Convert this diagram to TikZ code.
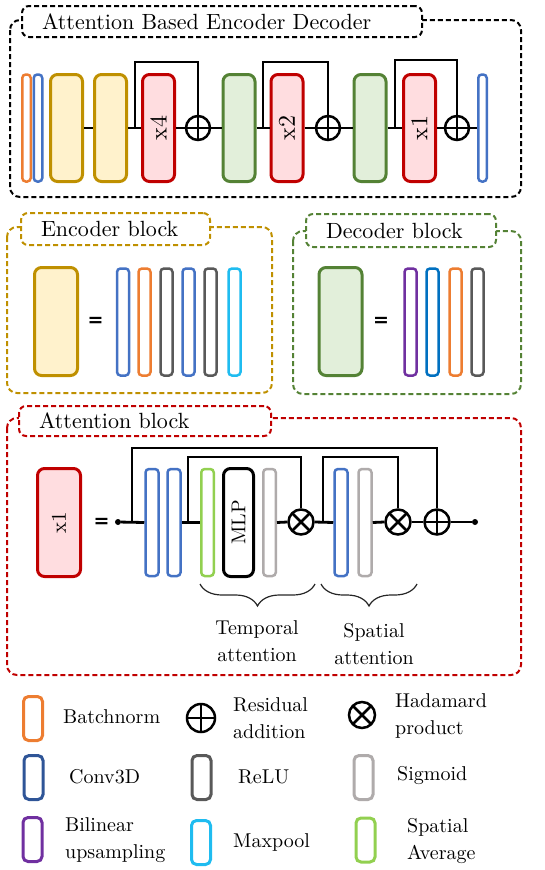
\documentclass[tikz,border=0pt]{standalone}
\usepackage{fontspec}
\setmainfont{lmroman10-regular}[Extension=.otf, BoldFont=lmroman10-bold, ItalicFont=lmroman10-italic]
\newfontfamily\eqfont{DejaVu Sans}
\usetikzlibrary{calc,decorations.pathreplacing}
\definecolor{cOr}{HTML}{ED7D31}
\definecolor{cBl}{HTML}{4472C4}
\definecolor{cBlD}{HTML}{0070C0}
\definecolor{cBlN}{HTML}{2F5597}
\definecolor{cYb}{HTML}{BF9000}
\definecolor{cYf}{HTML}{FFF2CC}
\definecolor{cRb}{HTML}{C00000}
\definecolor{cRf}{HTML}{FFDDE0}
\definecolor{cGb}{HTML}{548235}
\definecolor{cGf}{HTML}{E2EFDA}
\definecolor{cGy}{HTML}{595959}
\definecolor{cLg}{HTML}{AFABAB}
\definecolor{cCy}{HTML}{1FBCF0}
\definecolor{cPu}{HTML}{7030A0}
\definecolor{cLgr}{HTML}{92D050}
\tikzset{
  big/.style={draw, line width=3pt, rounded corners=7pt, minimum width=32pt, minimum height=107pt, inner sep=0pt},
  encb/.style={big, draw=cYb, fill=cYf},
  decb/.style={big, draw=cGb, fill=cGf},
  attb/.style={big, draw=cRb, fill=cRf, font=\fontsize{24}{24}\selectfont},
  slim/.style={draw, line width=2.5pt, rounded corners=3.5pt, minimum width=8.5pt, minimum height=107pt, inner sep=0pt},
  leg/.style={draw, line width=3pt, rounded corners=5pt, minimum width=19pt, minimum height=44pt, inner sep=0pt},
  opl/.style={circle, draw, line width=2.5pt, minimum size=24pt, inner sep=0pt},
  oplus/.style={opl, path picture={\draw[line width=2.5pt] (path picture bounding box.north) -- (path picture bounding box.south) (path picture bounding box.east) -- (path picture bounding box.west);}},
  otimes/.style={opl, path picture={\draw[line width=2.5pt] (path picture bounding box.north east) -- (path picture bounding box.south west) (path picture bounding box.north west) -- (path picture bounding box.south east);}},
  link/.style={line width=2.8pt},
  skipl/.style={line width=2pt},
  frame/.style={dash pattern=on 5pt off 3pt, line width=2pt, rounded corners=10pt},
  titlebox/.style={frame, draw, fill=white, rounded corners=7pt, inner xsep=20pt, inner ysep=0pt, align=left, anchor=north west, font=\fontsize{22}{26}\selectfont},
  eqs/.style={font=\eqfont\bfseries\fontsize{19}{19}\selectfont, inner sep=0pt},
  dot/.style={circle, fill, inner sep=0pt, minimum size=6pt},
  lt/.style={anchor=west, align=left, inner sep=0pt},
  brc/.style={decorate, decoration={brace, amplitude=22pt, mirror}, line width=1.2pt, draw=black!85},
}
\begin{document}
\begin{tikzpicture}[x=1pt, y=-1pt, font=\fontsize{20}{27}\selectfont]
\useasboundingbox (0,0) rectangle (544,870);

% ---------- top frame ----------
\draw[frame] (10,20) rectangle (521,197);
\node[titlebox, minimum width=400pt, minimum height=31pt, text width=360pt] (t1) at (21,5) {Attention Based Encoder Decoder};

\node[slim, draw=cOr] (bn0) at (26.5,128) {};
\node[slim, draw=cBl] (cv0) at (38,128) {};
\node[encb] (e1) at (66.5,128) {};
\node[encb] (e2) at (110.5,128) {};
\node[attb] (a4) at (158.5,128) {\rotatebox{90}{x4}};
\node[oplus] (p1) at (198,128) {};
\node[decb] (d1) at (239,128) {};
\node[attb] (a2) at (287,128) {\rotatebox{90}{x2}};
\node[oplus] (p2) at (328,128) {};
\node[decb] (d2) at (370,128) {};
\node[attb] (a1) at (419.5,128) {\rotatebox{90}{x1}};
\node[oplus] (p3) at (457,128) {};
\node[slim, draw=cBl] (cv9) at (482.5,128) {};

\draw[link] (e1.east) -- (e2.west);
\draw[link] (e2.east) -- (a4.west);
\draw[link] (a4.east) -- (p1.west);
\draw[link] (p1.east) -- (d1.west);
\draw[link] (d1.east) -- (a2.west);
\draw[link] (a2.east) -- (p2.west);
\draw[link] (p2.east) -- (d2.west);
\draw[link] (d2.east) -- (a1.west);
\draw[link] (a1.east) -- (p3.west);
\draw[link] (p3.east) -- (cv9.west);
\coordinate (k1) at ($(e2.east)!0.5!(a4.west)$);
\coordinate (k2) at ($(d1.east)!0.5!(a2.west)$);
\coordinate (k3) at ($(d2.east)!0.5!(a1.west)$);
\draw[skipl] (k1) -- (k1 |- 0,62) -| (p1.north);
\draw[skipl] (k2) -- (k2 |- 0,62) -| (p2.north);
\draw[skipl] (k3) -- (k3 |- 0,60) -| (p3.north);

% ---------- encoder block ----------
\draw[frame, draw=cYb] (7,227) rectangle (272,393);
\node[titlebox, draw=cYb, minimum width=189pt, minimum height=32pt, text width=149pt] (t2) at (20,212) {Encoder block};
\node[encb, minimum width=43pt, minimum height=108pt] (E) at (56,321.5) {};
\node[eqs] (eqE) at (95.5,322) {=};
\node[slim, minimum width=12pt, draw=cBl] (E1) at (123,322) {};
\node[slim, minimum width=12pt, draw=cOr] (E2) at (144.5,322) {};
\node[slim, minimum width=12pt, draw=cGy] (E3) at (166.5,322) {};
\node[slim, minimum width=12pt, draw=cBl] (E4) at (188.5,322) {};
\node[slim, minimum width=12pt, draw=cGy] (E5) at (210.5,322) {};
\node[slim, minimum width=12pt, draw=cCy] (E6) at (234.5,322) {};

% ---------- decoder block ----------
\draw[frame, draw=cGb] (293,231) rectangle (521,394);
\node[titlebox, draw=cGb, minimum width=190pt, minimum height=33pt, text width=150pt] (t3) at (305,213) {Decoder block};
\node[decb, minimum width=43pt, minimum height=108pt] (D) at (340.5,321.5) {};
\node[eqs] (eqD) at (381,322) {=};
\node[slim, minimum width=12pt, draw=cPu] (D1) at (410.5,322) {};
\node[slim, minimum width=12pt, draw=cBlD] (D2) at (432.5,322) {};
\node[slim, minimum width=12pt, draw=cOr] (D3) at (455.5,322) {};
\node[slim, minimum width=12pt, draw=cGy] (D4) at (477.5,322) {};

% ---------- attention block ----------
\draw[frame, draw=cRb] (7,418) rectangle (521,675);
\node[titlebox, draw=cRb, minimum width=252pt, minimum height=30pt, text width=212pt] (t4) at (18,405) {Attention block};
\node[attb, minimum width=43pt, minimum height=108pt, font=\fontsize{21}{21}\selectfont] (AX) at (59,522.5) {\rotatebox{90}{x1}};
\node[eqs] (eqA) at (101.5,523) {=};
\node[dot] (in) at (118,522) {};
\node[slim, minimum width=13pt, draw=cBl] (b1) at (152,522.5) {};
\node[slim, minimum width=13pt, draw=cBl] (b2) at (174,522.5) {};
\node[slim, minimum width=12.5pt, draw=cLgr] (sa) at (207.5,522.5) {};
\node[big, draw=black, minimum width=30pt, minimum height=108pt] (mlp) at (238.5,522.5) {\rotatebox{90}{MLP}};
\node[slim, minimum width=12.5pt, draw=cLg] (sg1) at (269.5,522.5) {};
\node[otimes, minimum size=25pt] (x1) at (301,522) {};
\node[slim, minimum width=13pt, draw=cBl] (b3) at (341,522.5) {};
\node[slim, minimum width=13pt, draw=cLg] (sg2) at (365,522.5) {};
\node[otimes, minimum size=25pt] (x2) at (398,522) {};
\node[oplus, minimum size=25pt] (pa) at (437,522) {};
\node[dot] (out) at (475,522) {};

\draw[link] (in) -- (b1.west);
\draw[link] (b2.east) -- (sa.west);
\draw[link] (sg1.east) -- (x1.west);
\draw[link] (x1.east) -- (b3.west);
\draw[link] (sg2.east) -- (x2.west);
\draw[link] (x2.east) -- (pa.west);
\draw[link] (pa.east) -- (out);
\coordinate (k4) at ($(in)!0.55!(b1.west)$);
\coordinate (k5) at ($(b2.east)!0.36!(sa.west)$);
\coordinate (k6) at ($(x1.east)!0.45!(b3.west)$);
\draw[skipl] (k4) -- (k4 |- 0,448) -| (pa.north);
\draw[skipl] (k5) -- (k5 |- 0,457) -| (x1.north);
\draw[skipl] (k6) -- (k6 |- 0,457) -| (x2.north);

\draw[brc] (200,584) -- (315,584);
\draw[brc] (321,584) -- (417,584);
\node[align=center, inner sep=0pt] (tt) at (257,641) {Temporal\\attention};
\node[align=center, inner sep=0pt] (st) at (374,644) {Spatial\\attention};

% ---------- legend ----------
\node[leg, draw=cOr] (L1) at (33,718.5) {};
\node[lt] (L1t) at (63,717) {Batchnorm};
\node[oplus, minimum size=28pt] (L2) at (201,718) {};
\node[lt] (L2t) at (233,718) {Residual\\addition};
\node[otimes, minimum size=26pt] (L3) at (362,715) {};
\node[lt] (L3t) at (395,716) {Hadamard\\product};
\node[leg, draw=cBlN] (L4) at (33.5,777.5) {};
\node[lt] (L4t) at (69,777) {Conv3D};
\node[leg, draw=cGy] (L5) at (201.5,777.5) {};
\node[lt] (L5t) at (238,777) {ReLU};
\node[leg, draw=cLg] (L6) at (363.5,777.5) {};
\node[lt] (L6t) at (397,776) {Sigmoid};
\node[leg, draw=cPu] (L7) at (32.5,839.5) {};
\node[lt] (L7t) at (65,840) {Bilinear\\upsampling};
\node[leg, draw=cCy] (L8) at (201,842.5) {};
\node[lt] (L8t) at (233,842) {Maxpool};
\node[leg, draw=cLgr] (L9) at (365.5,840) {};
\node[lt] (L9t) at (407,841) {Spatial\\Average};
\end{tikzpicture}
\end{document}
